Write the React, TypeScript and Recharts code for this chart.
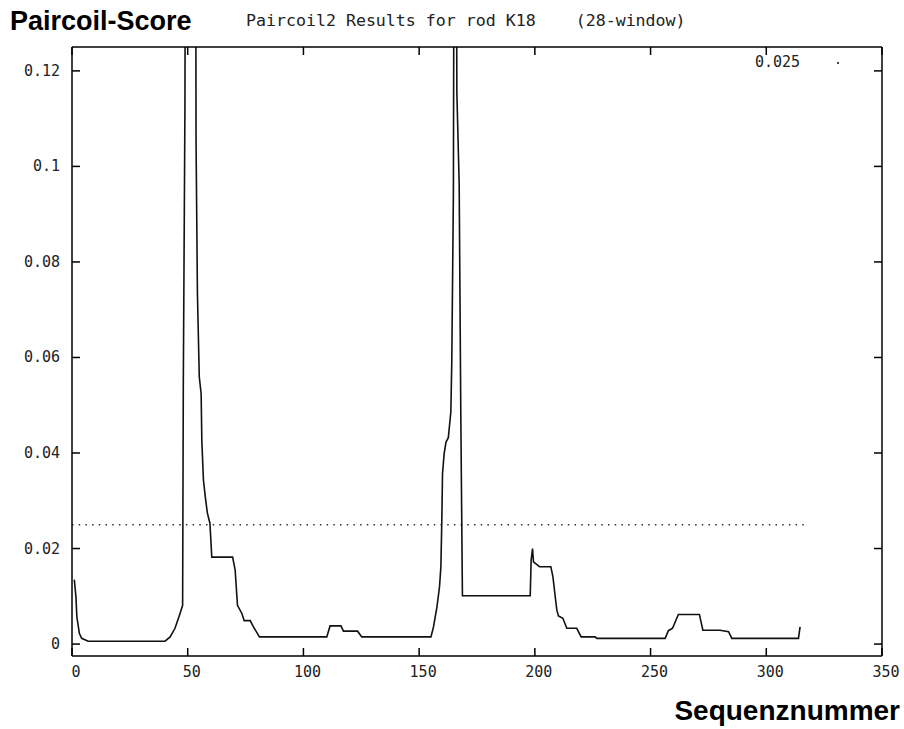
import { LineChart, Line, XAxis, YAxis, ReferenceLine } from 'recharts';

// residue positions (breakpoints) and their Paircoil scores
const seqPos = [
  1, 1.7, 2.1, 3.2, 4.2, 7, 40.2, 42.4, 44.5, 46.4, 47.8, 48.1, 48.8, 49.6, 53.0,
  53.6, 54.2, 55.0, 55.8, 56.1, 56.8, 57.6, 58.5, 59.6, 60.4, 69.4, 70.5, 71.5, 73.4,
  74.4, 77, 78.4, 81, 110.1, 111.5, 116.2, 117.3, 123.4, 125.2, 155.1, 156.2, 157.7,
  158.8, 159.4, 159.8, 160.1, 160.8, 161.6, 162.6, 163.7, 164.1, 164.8, 165.5, 166.3,
  167.3, 168.0, 168.7, 198.0, 198.4, 199.0, 199.4, 202, 206.9, 207.8, 208.8, 209.5,
  210.2, 212.1, 213.8, 218.1, 220, 226, 226.8, 256.3, 257.7, 259.5, 262, 271.1, 272.6,
  280, 283.7, 285.1, 313.9, 314.6,
];
const scores = [
  0.0135, 0.0099, 0.0057, 0.0022, 0.0012, 0.0006, 0.0006, 0.0015, 0.0033, 0.006, 0.0081,
  0.0545, 0.1126, 0.3, 0.3, 0.1053, 0.0733, 0.0559, 0.0524, 0.0426, 0.0343, 0.0308, 0.0274,
  0.0253, 0.0182, 0.0182, 0.0155, 0.0081, 0.0064, 0.0049, 0.0049, 0.0036, 0.0015, 0.0015,
  0.0038, 0.0038, 0.0027, 0.0027, 0.0015, 0.0015, 0.0036, 0.0078, 0.012, 0.0162, 0.026,
  0.0357, 0.0398, 0.0423, 0.0432, 0.0486, 0.059, 0.0942, 0.25, 0.1154, 0.0963, 0.0482,
  0.0101, 0.0101, 0.0176, 0.02, 0.0172, 0.0162, 0.0162, 0.0141, 0.0099, 0.0071, 0.0059,
  0.0054, 0.0033, 0.0033, 0.0015, 0.0015, 0.0012, 0.0012, 0.0028, 0.0033, 0.0062, 0.0062,
  0.0029, 0.0029, 0.0026, 0.0012, 0.0012, 0.0036,
];

const xTicks = [0, 50, 100, 150, 200, 250, 300, 350];
const yTicks = [0, 0.02, 0.04, 0.06, 0.08, 0.1, 0.12];
const thresholdSeq = [0, 317];
const thresholdValue = 0.025;

const data = seqPos.map((s, i) => ({ seq: s, score: scores[i] }));

const mono = '"DejaVu Sans Mono", monospace';
const sans = '"Liberation Sans", Arial, sans-serif';
const TICK = 8;

const BottomTick = ({ x, y, payload }: any) => (
  <g>
    <line x1={x} x2={x} y1={y - 16} y2={y - 16 - TICK} stroke="#000" strokeWidth={1.5} />
    <text x={x + 4} y={y} textAnchor="middle" dominantBaseline="central" fontFamily={mono} fontSize={15} fill="#222">
      {payload.value}
    </text>
  </g>
);

const TopTick = ({ x, y }: any) => (
  <line x1={x} x2={x} y1={y} y2={y + TICK} stroke="#000" strokeWidth={1.5} />
);

const LeftTick = ({ x, y, payload }: any) => (
  <g>
    <line x1={x + 12} x2={x + 12 + TICK} y1={y} y2={y} stroke="#000" strokeWidth={1.5} />
    <text x={x} y={y} textAnchor="end" dominantBaseline="central" fontFamily={mono} fontSize={15} fill="#222">
      {payload.value}
    </text>
  </g>
);

const RightTick = ({ x, y }: any) => (
  <line x1={x} x2={x - TICK} y1={y} y2={y} stroke="#000" strokeWidth={1.5} />
);

const App = () => {
  return (
    <div style={{ position: 'absolute', left: 0, top: 0, width: 904, height: 729, background: '#fff' }}>
      <div style={{ position: 'absolute', left: 10, top: 8, fontFamily: sans, fontWeight: 'bold', fontSize: 27, lineHeight: 1 }}>
        Paircoil-Score
      </div>
      <div style={{ position: 'absolute', left: 246, top: 13, fontFamily: mono, fontSize: 16.6, lineHeight: 1, whiteSpace: 'pre', color: '#222' }}>
        {'Paircoil2 Results for rod K18    (28-window)'}
      </div>
      <div style={{ position: 'absolute', left: 755, top: 55, fontFamily: mono, fontSize: 15, lineHeight: 1, color: '#222' }}>
        {thresholdValue}
      </div>
      <div style={{ position: 'absolute', left: 837, top: 62, width: 2, height: 2, background: '#444' }} />
      <div style={{ position: 'absolute', right: 4, top: 697, fontFamily: sans, fontWeight: 'bold', fontSize: 28, lineHeight: 1 }}>
        Sequenznummer
      </div>
      <LineChart width={904} height={729} data={data} margin={{ top: 17, right: 12, bottom: 43, left: 0 }}>
        <XAxis
          dataKey="seq"
          type="number"
          domain={[0, 350]}
          ticks={xTicks}
          allowDataOverflow
          height={30}
          tickSize={0}
          tickMargin={16}
          tickLine={false}
          tick={<BottomTick />}
          axisLine={{ stroke: '#000', strokeWidth: 1.5 }}
        />
        <XAxis
          xAxisId="top"
          orientation="top"
          dataKey="seq"
          type="number"
          domain={[0, 350]}
          ticks={xTicks}
          allowDataOverflow
          height={30}
          tickSize={0}
          tickMargin={0}
          tickLine={false}
          tick={<TopTick />}
          axisLine={{ stroke: '#000', strokeWidth: 1.5 }}
        />
        <YAxis
          type="number"
          domain={[-0.0025, 0.125]}
          ticks={yTicks}
          allowDataOverflow
          width={72}
          tickSize={0}
          tickMargin={12}
          tickLine={false}
          tick={<LeftTick />}
          axisLine={{ stroke: '#000', strokeWidth: 1.5 }}
        />
        <YAxis
          yAxisId="right"
          orientation="right"
          type="number"
          domain={[-0.0025, 0.125]}
          ticks={yTicks}
          allowDataOverflow
          width={10}
          tickSize={0}
          tickMargin={0}
          tickLine={false}
          tick={<RightTick />}
          axisLine={{ stroke: '#000', strokeWidth: 1.5 }}
        />
        <ReferenceLine
          segment={[
            { x: thresholdSeq[0], y: thresholdValue },
            { x: thresholdSeq[1], y: thresholdValue },
          ]}
          stroke="#333"
          strokeWidth={1.5}
          strokeDasharray="1.5 5.2"
        />
        <Line
          type="linear"
          dataKey="score"
          stroke="#111"
          strokeWidth={1.6}
          dot={false}
          activeDot={false}
          isAnimationActive={false}
        />
      </LineChart>
    </div>
  );
};

export default App;
